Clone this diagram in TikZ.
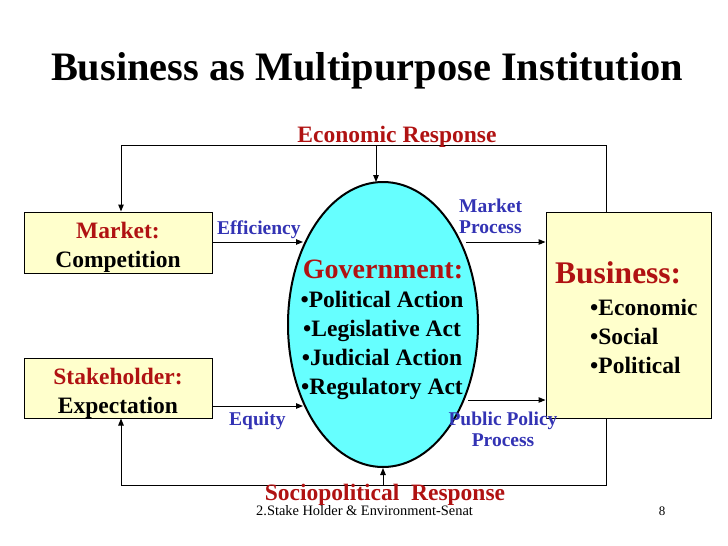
\documentclass[tikz,border=0pt]{standalone}
\usepackage{fontspec}
\setmainfont{Liberation Serif}
\usepackage{xcolor}
\definecolor{bizred}{RGB}{176, 18, 18}
\definecolor{bizblue}{RGB}{51, 51, 180}
\definecolor{bizyellow}{RGB}{255, 255, 204}
\definecolor{bizcyan}{RGB}{102, 255, 255}
\usetikzlibrary{shapes.geometric,calc,positioning,arrows.meta}

\tikzset{
    boxnode/.style={draw, line width=1pt, fill=bizyellow, inner sep=0pt, align=center,
        font=\bfseries\fontsize{23.5}{29}\selectfont},
    flowline/.style={line width=1pt, -{Triangle[length=7pt, width=5.5pt]}},
    flowlabel/.style={text=bizblue, inner sep=0pt, font=\bfseries\fontsize{19.5}{21}\selectfont},
    resplabel/.style={text=bizred, inner sep=0pt, font=\bfseries\fontsize{23.5}{28}\selectfont},
    bullettext/.style={inner sep=0pt, font=\bfseries\fontsize{23.5}{29}\selectfont}
}

\begin{document}
\begin{tikzpicture}[x=1pt, y=-1pt]
    \useasboundingbox (0, 0) rectangle (728, 546);

    % Title
    \node[inner sep=0pt, anchor=base, font=\bfseries\fontsize{40.4}{44}\selectfont] (title) at (367, 80)
        {Business as Multipurpose Institution};

    % Boxes
    \node[boxnode, minimum width=188, minimum height=61] (market) at (118, 242.5)
        {\rule{0pt}{25pt}\textcolor{bizred}{Market:}\\Competition};
    \node[boxnode, minimum width=188, minimum height=60] (stake) at (118, 388)
        {\rule{0pt}{26pt}\textcolor{bizred}{Stakeholder:}\\Expectation};
    \node[boxnode, minimum width=165, minimum height=206] (biz) at (628.5, 315) {};

    % Business contents
    \node[resplabel, anchor=base west, font=\bfseries\fontsize{31.5}{34}\selectfont] (bizhead) at (555, 283) {Business:};
    \node[bullettext, anchor=base west] (bizeco) at (590, 315) {\textbullet Economic};
    \node[bullettext, anchor=base west] (bizsoc) at (590, 344) {\textbullet Social};
    \node[bullettext, anchor=base west] (bizpol) at (590, 373) {\textbullet Political};

    % Government ellipse
    \node[draw, ellipse, line width=2pt, fill=bizcyan, inner sep=0pt,
        minimum width=190, minimum height=285] (gov) at (383, 324.5) {};
    \node[resplabel, anchor=base, font=\bfseries\fontsize{28}{30}\selectfont] (govhead) at (383, 278) {Government:};
    \node[bullettext, anchor=base] (govpol) at (382, 307) {\textbullet Political Action};
    \node[bullettext, anchor=base] (govleg) at (382, 336) {\textbullet Legislative Act};
    \node[bullettext, anchor=base] (govjud) at (382, 365) {\textbullet Judicial Action};
    \node[bullettext, anchor=base] (govreg) at (382, 394) {\textbullet Regulatory Act};

    % Feedback loops
    \coordinate (topR) at (606, 145);
    \coordinate (topL) at (121, 145);
    \coordinate (botR) at (606, 485);
    \coordinate (botL) at (121, 485);
    \draw[flowline] (biz.north -| topR) -- (topR) -- (topL) -- (market.north -| topL);
    \draw[flowline] (376, 145) -- (376, 182);
    \draw[flowline] (biz.south -| botR) -- (botR) -- (botL) -- (stake.south -| botL);
    \draw[flowline] (gov.south |- botR) -- (gov.south);

    % Flows into and out of government
    \coordinate (effend) at (303, 242);
    \coordinate (eqend) at (303, 406);
    \draw[flowline] (market.east |- effend) -- (effend);
    \draw[flowline] (stake.east |- eqend) -- (eqend);
    \draw[flowline] (466, 242) -- (biz.west |- effend);
    \draw[flowline] (468, 400) -- (biz.west |- 0, 400);

    % Flow labels
    \node[flowlabel, anchor=base west] (efflab) at (217, 234) {Efficiency};
    \node[flowlabel, anchor=base west] (eqlab) at (229, 425) {Equity};
    \node[flowlabel, anchor=base west, align=left] (mktlab) at (459, 233) {Market\\Process};
    \node[flowlabel, anchor=base, align=center] (pollab) at (503, 446) {Public Policy\\Process};

    % Response labels
    \node[resplabel, anchor=base] (ecolab) at (397, 142) {Economic Response};
    \node[resplabel, anchor=base] (soclab) at (385, 500) {Sociopolitical\ \ Response};

    % Footer
    \begin{scope}
        \clip (0, 500) rectangle (472, 546);
        \node[inner sep=0pt, anchor=base west, font=\fontsize{14.4}{16}\selectfont] (foot) at (256, 515)
            {2.Stake Holder \& Environment-Senate};
    \end{scope}
    \node[inner sep=0pt, anchor=base, font=\fontsize{13}{15}\selectfont] (pagenum) at (662, 515) {8};
\end{tikzpicture}
\end{document}
